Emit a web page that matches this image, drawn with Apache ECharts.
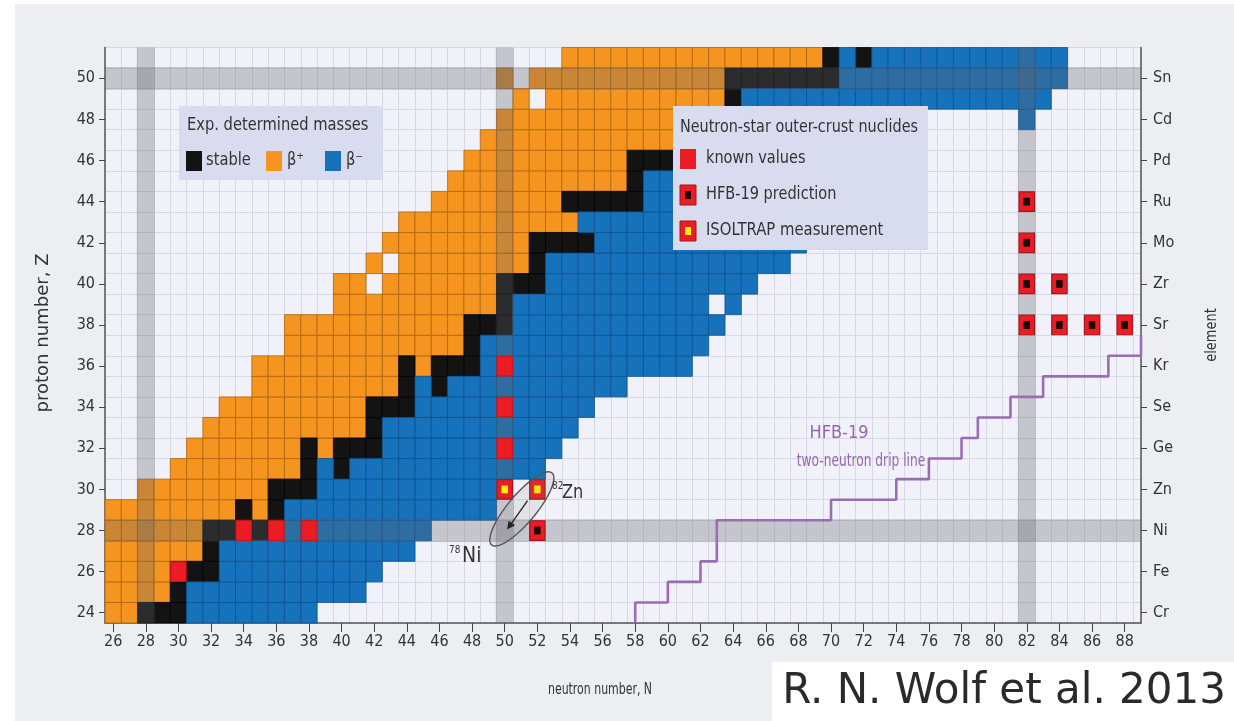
<!DOCTYPE html>
<html><head><meta charset="utf-8">
<script src="https://cdn.jsdelivr.net/npm/echarts@6.0.0/dist/echarts.min.js"></script>
<style>html,body{margin:0;padding:0;background:#fff}#c{width:1234px;height:721px}</style>
</head><body><div id="c"></div>
<script>
// ---------------- data ----------------
const xTickValues = [26,28,30,32,34,36,38,40,42,44,46,48,50,52,54,56,58,60,62,64,66,68,70,72,74,76,78,80,82,84,86,88];
const zTickValues = [24,26,28,30,32,34,36,38,40,42,44,46,48,50];
const elementNames = ['Cr','Fe','Ni','Zn','Ge','Se','Kr','Sr','Zr','Mo','Ru','Pd','Cd','Sn'];
// segments: [Z, firstN, lastN]
const betaPlus = [
 [24,26,27],[25,26,29],[26,26,29],[27,26,31],[28,26,31],[29,26,33],[29,35,35],[30,28,35],
 [31,30,37],[32,31,37],[32,39,39],[33,32,41],[34,33,41],[35,35,43],[36,35,43],[36,45,45],
 [37,37,47],[38,37,47],[39,40,49],[40,40,41],[40,43,49],[41,42,42],[41,44,51],[42,43,51],
 [43,44,54],[44,46,53],[45,47,57],[46,48,57],[47,49,60],[48,50,63],[49,51,51],[49,53,63],
 [50,50,50],[50,52,63],[51,54,69]
];
const stable = [
 [24,28,30],[25,30,30],[26,30,32],[27,32,32],[28,32,36],[29,34,34],[29,36,36],[30,36,38],
 [31,38,38],[31,40,40],[32,38,38],[32,40,42],[33,42,42],[34,42,44],[35,44,44],[35,46,46],
 [36,44,44],[36,46,48],[37,48,48],[38,48,50],[39,50,50],[40,50,52],[41,52,52],[42,52,55],
 [44,54,58],[45,58,58],[46,58,61],[47,61,62],[48,64,64],[49,64,64],[50,64,70],[51,70,70],[51,72,72]
];
const betaMinus = [
 [24,31,38],[25,31,41],[26,33,42],[27,33,44],[28,37,45],[29,37,49],[30,39,49],[31,39,39],
 [31,41,52],[32,43,53],[33,43,54],[34,45,55],[35,45,45],[35,47,57],[36,49,61],[37,49,62],
 [38,51,63],[39,51,62],[39,64,64],[40,53,65],[41,53,67],[42,56,68],[43,55,69],[44,59,70],
 [45,59,71],[46,62,72],[47,63,73],[48,65,75],[48,82,82],[49,65,83],[50,71,84],[51,71,71],[51,73,84]
];
// outer-crust nuclides [N, Z]
const knownValues = [[30,26],[34,28],[36,28],[38,28],[50,32],[50,34],[50,36]];
const hfbPredictions = [[52,28],[82,38],[84,38],[86,38],[88,38],[82,40],[84,40],[82,42],[82,44]];
const isoltrapMeasurements = [[50,30],[52,30]];
// HFB-19 two-neutron drip line corners [N, Z]
const dripLine = [[58,23.5],[58,24.5],[60,24.5],[60,25.5],[62,25.5],[62,26.5],[63,26.5],[63,28.5],
 [70,28.5],[70,29.5],[74,29.5],[74,30.5],[76,30.5],[76,31.5],[78,31.5],[78,32.5],[79,32.5],[79,33.5],
 [81,33.5],[81,34.5],[83,34.5],[83,35.5],[87,35.5],[87,36.5],[89,36.5],[89,37.5]];
const magicN = [28,50,82];
const magicZ = [28,50];

// ---------------- chart ----------------
const FONT = "'DejaVu Sans Condensed','DejaVu Sans',sans-serif";
const fills = ['#f5951f','#131313','#1672ba'];
const strokes = ['#b0650d','#000000','#0c5190'];
const N_MIN = 25.5, N_MAX = 89, Z_MIN = 23.5, Z_MAX = 51.5;
function expand(rows, t){const o=[];rows.forEach(([z,a,b])=>{for(let n=a;n<=b;n++)o.push([n,z,t]);});return o;}
const cellData = [].concat(expand(betaPlus,0), expand(stable,1), expand(betaMinus,2));
const markerData = [].concat(knownValues.map(d=>[d[0],d[1],0]), hfbPredictions.map(d=>[d[0],d[1],1]), isoltrapMeasurements.map(d=>[d[0],d[1],2]));
const elementByZ = {}; zTickValues.forEach((z,i)=>elementByZ[z]=elementNames[i]);

function cellBox(api,n,z){const a=api.coord([n-0.5,z+0.5]),b=api.coord([n+0.5,z-0.5]);return {x:a[0],y:a[1],width:b[0]-a[0],height:b[1]-a[1]};}
function txt(x,y,text,size,color,sx,align,extra){return Object.assign({type:'text',z:101,x:x,y:y,scaleX:sx||1,style:{x:0,y:0,text:text,font:size+'px '+FONT,fill:color||'#333',textAlign:align||'left',textVerticalAlign:'middle'}},extra||{});}

const chart = echarts.init(document.getElementById('c'));
const axisText = {color:'#333', fontFamily:FONT, fontSize:16};
const BAND = 'rgba(100,100,106,0.31)';
chart.setOption({
 backgroundColor:'#eceef2',
 animation:false,
 grid:{left:105,right:93,top:47.5,bottom:98,show:true,backgroundColor:'#f1f2f9',borderWidth:0},
 xAxis:[
  {type:'value',min:N_MIN,max:N_MAX,interval:1,axisLine:{show:false},axisTick:{show:false},axisLabel:{show:false},splitLine:{show:true,lineStyle:{color:'#d5d8e5',width:1}}},
  {type:'value',min:N_MIN,max:N_MAX,position:'bottom',
   axisLine:{show:true,onZero:false,lineStyle:{color:'#555',width:1.5}},
   axisTick:{show:true,customValues:xTickValues,length:9,lineStyle:{color:'#444'}},
   axisLabel:{customValues:xTickValues,margin:11,...axisText},
   splitLine:{show:false}}
 ],
 yAxis:[
  {type:'value',min:Z_MIN,max:Z_MAX,interval:1,axisLine:{show:false},axisTick:{show:false},axisLabel:{show:false},splitLine:{show:true,lineStyle:{color:'#d5d8e5',width:1}}},
  {type:'value',min:Z_MIN,max:Z_MAX,position:'left',
   axisLine:{show:true,onZero:false,lineStyle:{color:'#555',width:1.5}},
   axisTick:{show:true,customValues:zTickValues,length:6,lineStyle:{color:'#444'}},
   axisLabel:{customValues:zTickValues,margin:10,...axisText},
   splitLine:{show:false}},
  {type:'value',min:Z_MIN,max:Z_MAX,position:'right',
   axisLine:{show:true,onZero:false,lineStyle:{color:'#555',width:1.5}},
   axisTick:{show:true,customValues:zTickValues,length:6,lineStyle:{color:'#444'}},
   axisLabel:{customValues:zTickValues,margin:12,formatter:v=>elementByZ[v]||'',...axisText},
   splitLine:{show:false}}
 ],
 series:[
  {type:'custom',name:'cells',xAxisIndex:0,yAxisIndex:0,z:2,data:cellData,encode:{x:0,y:1},
   renderItem:(p,api)=>{const t=api.value(2);return {type:'rect',shape:cellBox(api,api.value(0),api.value(1)),style:{fill:fills[t],stroke:strokes[t],lineWidth:0.8}};}},
  {type:'custom',name:'magicN',xAxisIndex:0,yAxisIndex:0,z:3,data:magicN.map(n=>[n,37.5]),encode:{x:0,y:1},
   renderItem:(p,api)=>{const a=api.coord([api.value(0)-0.55,Z_MAX]),b=api.coord([api.value(0)+0.55,Z_MIN]);return {type:'rect',shape:{x:a[0],y:a[1],width:b[0]-a[0],height:b[1]-a[1]},style:{fill:BAND}};}},
  {type:'custom',name:'magicZ',xAxisIndex:0,yAxisIndex:0,z:3,data:magicZ.map(z=>[57,z]),encode:{x:0,y:1},
   renderItem:(p,api)=>{const a=api.coord([N_MIN,api.value(1)+0.55]),b=api.coord([N_MAX,api.value(1)-0.55]);return {type:'rect',shape:{x:a[0],y:a[1],width:b[0]-a[0],height:b[1]-a[1]},style:{fill:BAND}};}},
  {type:'line',name:'drip',xAxisIndex:0,yAxisIndex:0,z:4,data:dripLine,showSymbol:false,symbol:'none',lineStyle:{color:'#9a6db3',width:2.6},silent:true},
  {type:'custom',name:'markers',xAxisIndex:0,yAxisIndex:0,z:5,data:markerData,encode:{x:0,y:1},
   renderItem:(p,api)=>{const b=cellBox(api,api.value(0),api.value(1));const k=api.value(2);
    const ch=[{type:'rect',shape:{x:b.x+0.5,y:b.y+0.5,width:b.width-1,height:b.height-1},style:{fill:'#ec1c24',stroke:k===0?'#d0151c':'#a3171c',lineWidth:1.2}}];
    if(k>0){const w=b.width*0.4,h=b.height*0.38;ch.push({type:'rect',shape:{x:b.x+(b.width-w)/2,y:b.y+(b.height-h)/2,width:w,height:h},style:{fill:k===1?'#1a0a0a':'#fff200'}});}
    return {type:'group',children:ch};}},
  {type:'custom',name:'ellipse',xAxisIndex:0,yAxisIndex:0,z:6,data:[[51,29]],encode:{x:0,y:1},
   renderItem:(p,api)=>{const c=api.coord([51.05,29.05]);const ang=-50*Math.PI/180,rx=47,ry=14;const pts=[];
    for(let i=0;i<72;i++){const t=i/72*2*Math.PI;const x=rx*Math.cos(t),y=ry*Math.sin(t);pts.push([c[0]+x*Math.cos(ang)-y*Math.sin(ang),c[1]+x*Math.sin(ang)+y*Math.cos(ang)]);}
    const s=api.coord([51.4,29.45]),e=api.coord([50.15,28.05]);
    const dx=e[0]-s[0],dy=e[1]-s[1],L=Math.hypot(dx,dy),ux=dx/L,uy=dy/L;
    const head=[[e[0],e[1]],[e[0]-ux*8-uy*4,e[1]-uy*8+ux*4],[e[0]-ux*8+uy*4,e[1]-uy*8-ux*4]];
    return {type:'group',children:[
     {type:'polygon',shape:{points:pts},style:{fill:'rgba(120,120,120,0.12)',stroke:'#555',lineWidth:1.4}},
     {type:'line',shape:{x1:s[0],y1:s[1],x2:e[0]-ux*6,y2:e[1]-uy*6},style:{stroke:'#222',lineWidth:1.3}},
     {type:'polygon',shape:{points:head},style:{fill:'#222'}}]};}}
 ],
 graphic:[
  // page margins
  {type:'rect',z:100,shape:{x:0,y:0,width:15,height:721},style:{fill:'#ffffff'}},
  {type:'rect',z:100,shape:{x:0,y:0,width:1234,height:4},style:{fill:'#ffffff'}},
  // legend 1
  {type:'rect',z:100,shape:{x:179,y:106,width:203,height:74},style:{fill:'#d9dcee'}},
  txt(187,126,'Exp. determined masses',17,'#333',0.96),
  {type:'rect',z:101,shape:{x:186,y:151,width:16,height:20},style:{fill:'#131313'}},
  txt(206,161,'stable',17,'#333',0.96),
  {type:'rect',z:101,shape:{x:266,y:151,width:16,height:20},style:{fill:'#f5951f'}},
  txt(287,161,'β⁺',17,'#333',0.96),
  {type:'rect',z:101,shape:{x:325,y:151,width:16,height:20},style:{fill:'#1672ba'}},
  txt(346,161,'β⁻',17,'#333',0.96),
  // legend 2
  {type:'rect',z:100,shape:{x:673,y:106,width:255,height:144},style:{fill:'#d9dcee'}},
  txt(680,128,'Neutron-star outer-crust nuclides',17,'#333',0.94),
  {type:'rect',z:101,shape:{x:680,y:149,width:16,height:20},style:{fill:'#ec1c24'}},
  txt(706,159,'known values',17,'#333',0.95),
  {type:'rect',z:101,shape:{x:680,y:185,width:16,height:20},style:{fill:'#ec1c24',stroke:'#a3171c',lineWidth:1}},
  {type:'rect',z:102,shape:{x:685,y:191,width:6,height:8},style:{fill:'#1a0a0a'}},
  txt(706,195,'HFB-19 prediction',17,'#333',0.95),
  {type:'rect',z:101,shape:{x:680,y:221,width:16,height:20},style:{fill:'#ec1c24',stroke:'#a3171c',lineWidth:1}},
  {type:'rect',z:102,shape:{x:685,y:227,width:6,height:8},style:{fill:'#fff200'}},
  txt(706,231,'ISOLTRAP measurement',17,'#333',0.97),
  // annotations
  txt(839,433,'HFB-19',18,'#9467ad',1,'center'),
  txt(861,462,'two-neutron drip line',17,'#9467ad',0.8,'center'),
  txt(552,486,'82',11,'#333',0.9),
  txt(562,493,'Zn',20,'#333',0.9),
  txt(449,550,'78',11,'#333',0.9),
  txt(462,557,'Ni',21,'#333',1),
  // axis names
  txt(600,690,'neutron number, N',16,'#333',0.76,'center'),
  txt(44,333,'proton number, Z',17,'#333',1.18,'center',{rotation:Math.PI/2}),
  txt(1212,335,'element',16,'#333',0.9,'center',{rotation:Math.PI/2}),
  // credit
  {type:'rect',z:100,shape:{x:772,y:662,width:462,height:59},style:{fill:'#ffffff'}},
  {type:'text',z:101,style:{x:1226,y:692,text:'R. N. Wolf et al. 2013',font:'42px DejaVu Sans',fill:'#2a2a2a',textAlign:'right',textVerticalAlign:'middle'}}
 ]
});
</script></body></html>
